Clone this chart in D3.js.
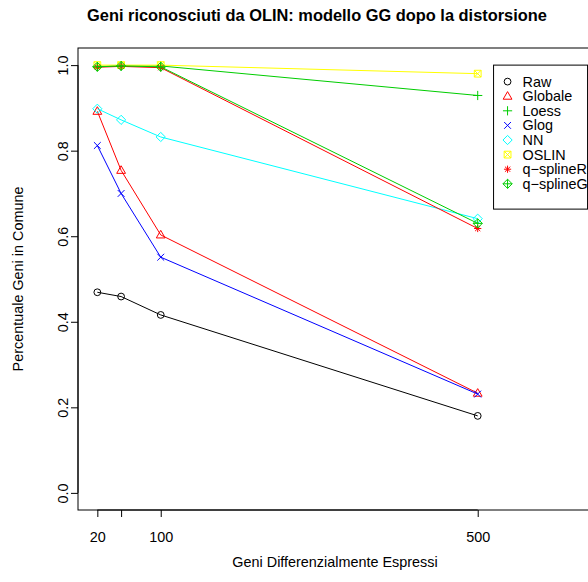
<!DOCTYPE html>
<html>
<head>
<meta charset="utf-8">
<script src="https://cdn.jsdelivr.net/npm/d3@7"></script>
<style>
  body { margin: 0; background: #fff; }
  text { font-family: "Liberation Sans", Arial, sans-serif; }
</style>
</head>
<body>
<div id="chart"></div>
<script>
// data
var geni = [20, 50, 100, 500];
var xTicks = [20, 50, 100, 500];
var xTickLabels = ["20", "", "100", "500"];
var yTicks = [0, 0.2, 0.4, 0.6, 0.8, 1.0];

var raw       = [0.469, 0.459, 0.416, 0.180];
var globale   = [0.892, 0.754, 0.603, 0.233];
var loess     = [0.997, 0.998, 0.998, 0.929];
var glog      = [0.812, 0.700, 0.551, 0.231];
var nn        = [0.898, 0.872, 0.832, 0.641];
var oslin     = [1.000, 1.000, 1.000, 0.980];
var qsplineR  = [0.995, 0.997, 0.994, 0.618];
var qsplineG  = [0.996, 0.998, 0.996, 0.630];

var seriesNames = ["Raw", "Globale", "Loess", "Glog", "NN", "OSLIN", "q\u2212splineR", "q\u2212splineG"];
var seriesValues = [raw, globale, loess, glog, nn, oslin, qsplineR, qsplineG];
var seriesColors = ["#000000", "#ff0000", "#00cd00", "#0000ff", "#00ffff", "#ffff00", "#ff0000", "#00cd00"];
var seriesPch = [1, 2, 3, 4, 5, 7, 8, 9];

var width = 588, height = 582;

var svg = d3.select("#chart")
  .append("svg")
    .attr("width", width)
    .attr("height", height);

// plot region (R style: 4% extension on y)
var x = d3.scaleLinear().domain([-4.4, 660]).range([78, 604.5]);
var y = d3.scaleLinear().domain([-0.04, 1.04]).range([510, 48]);

// symbol paths, roughly like R pch
function pchPath(p) {
  var r = 3.4;
  switch (p) {
    case 1: return "M" + r + ",0A" + r + "," + r + " 0 1,1 " + (-r) + ",0A" + r + "," + r + " 0 1,1 " + r + ",0Z";
    case 2: return "M0,-4.6L4.4,3L-4.4,3Z";
    case 3: return "M-4.6,0H4.6M0,-4.6V4.6";
    case 4: return "M-3.4,-3.4L3.4,3.4M-3.4,3.4L3.4,-3.4";
    case 5: return "M0,-4.6L4.6,0L0,4.6L-4.6,0Z";
    case 7: return "M-3.4,-3.4H3.4V3.4H-3.4ZM-3.4,-3.4L3.4,3.4M-3.4,3.4L3.4,-3.4";
    case 8: return "M-3.6,0H3.6M0,-3.6V3.6M-2.6,-2.6L2.6,2.6M-2.6,2.6L2.6,-2.6";
    case 9: return "M0,-4.6L4.6,0L0,4.6L-4.6,0ZM-4.6,0H4.6M0,-4.6V4.6";
  }
}

// title
svg.append("text")
  .attr("x", 317).attr("y", 21)
  .attr("text-anchor", "middle")
  .style("font-size", "16.4px")
  .style("font-weight", "bold")
  .text("Geni riconosciuti da OLIN: modello GG dopo la distorsione");

// series
var line = d3.line()
  .x(function(d, i) { return x(geni[i]); })
  .y(function(d) { return y(d); });

seriesValues.forEach(function(vals, k) {
  var g = svg.append("g");
  g.append("path")
    .attr("d", line(vals))
    .attr("fill", "none")
    .attr("stroke", seriesColors[k])
    .attr("stroke-width", 1);
  g.selectAll("path.pt")
    .data(vals)
    .enter().append("path")
      .attr("class", "pt")
      .attr("transform", function(d, i) { return "translate(" + x(geni[i]) + "," + y(d) + ")"; })
      .attr("d", pchPath(seriesPch[k]))
      .attr("fill", "none")
      .attr("stroke", seriesColors[k])
      .attr("stroke-width", 1);
});

// box
svg.append("rect")
  .attr("x", x.range()[0]).attr("y", y.range()[1])
  .attr("width", x.range()[1] - x.range()[0])
  .attr("height", y.range()[0] - y.range()[1])
  .attr("fill", "none")
  .attr("stroke", "#000")
  .attr("stroke-width", 1);

// x axis
var xAxis = svg.append("g")
  .attr("transform", "translate(0," + y.range()[0] + ")")
  .call(d3.axisBottom(x).tickValues(xTicks).tickSize(7)
    .tickFormat(function(d, i) { return xTickLabels[i]; }));
xAxis.select(".domain").attr("d", "M" + x(20) + ",0H" + x(500));
xAxis.selectAll(".tick text")
  .attr("y", 32).attr("dy", 0)
  .style("font-size", "14.4px").attr("fill", "#000");

// y axis
var yAxis = svg.append("g")
  .attr("transform", "translate(" + x.range()[0] + ",0)")
  .call(d3.axisLeft(y).tickValues(yTicks).tickSize(7).tickFormat(d3.format(".1f")));
yAxis.select(".domain").attr("d", "M0," + y(0) + "V" + y(1));
yAxis.selectAll(".tick text")
  .attr("x", 0).attr("y", 0).attr("dy", 0)
  .attr("transform", "translate(-10,0) rotate(-90)")
  .attr("text-anchor", "middle")
  .style("font-size", "14.4px")
  .attr("fill", "#000");

// axis titles
svg.append("text")
  .attr("x", 335).attr("y", 567)
  .attr("text-anchor", "middle")
  .style("font-size", "14.4px")
  .text("Geni Differenzialmente Espressi");

svg.append("text")
  .attr("transform", "translate(23," + y(0.5) + ") rotate(-90)")
  .attr("text-anchor", "middle")
  .style("font-size", "14.4px")
  .text("Percentuale Geni in Comune");

// legend
var lx = x(520), ly = y(1.0);
var legend = svg.append("g").attr("transform", "translate(" + lx + "," + ly + ")");
legend.append("rect")
  .attr("x", 0).attr("y", 0)
  .attr("width", 94).attr("height", 144)
  .attr("fill", "#fff")
  .attr("stroke", "#000");
seriesNames.forEach(function(name, k) {
  var yy = 16.5 + k * 14.6;
  legend.append("path")
    .attr("transform", "translate(14," + yy + ")")
    .attr("d", pchPath(seriesPch[k]))
    .attr("fill", "none")
    .attr("stroke", seriesColors[k]);
  legend.append("text")
    .attr("x", 29).attr("y", yy + 5)
    .style("font-size", "14.4px")
    .text(name);
});
</script>
</body>
</html>
